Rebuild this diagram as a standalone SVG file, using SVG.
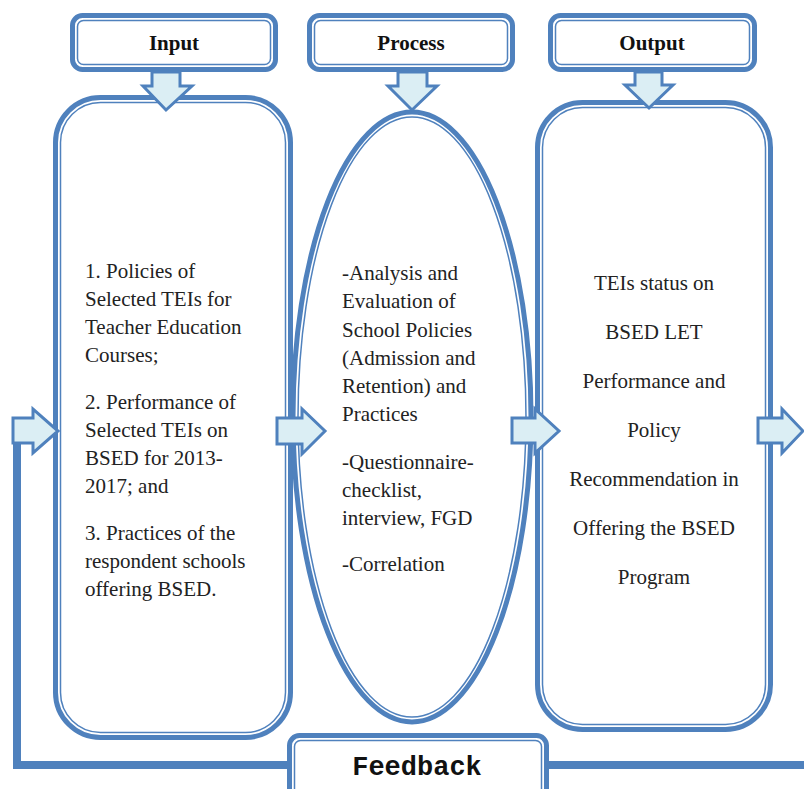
<svg xmlns="http://www.w3.org/2000/svg" width="804" height="789" viewBox="0 0 804 789">
<style>
.o{fill:#fff;stroke:#4F81BD;stroke-width:5}
.i{fill:none;stroke:#4F81BD;stroke-width:1.5}
.ar{fill:#DBEEF4;stroke:#4F81BD;stroke-width:3;stroke-linejoin:miter}
.ln{fill:none;stroke:#4F81BD;stroke-width:8}
.h{font-size:21px;font-weight:bold;fill:#111;text-anchor:middle}
.t{font-size:21px;fill:#222}
.c{text-anchor:middle}
.fb{font-size:27px;font-weight:bold;fill:#111;text-anchor:middle}
</style>
<rect width="804" height="789" fill="#fff"/>
<g id="input-header" font-family="'Liberation Serif', 'Times New Roman', serif">
<rect class="o" x="72.5" y="15.5" width="203" height="54" rx="10"/>
<rect class="i" x="77.5" y="20.5" width="193" height="44" rx="6"/>
<text class="h" x="174" y="50">Input</text>
</g>
<g id="process-header" font-family="'Liberation Serif', 'Times New Roman', serif">
<rect class="o" x="309.5" y="15.5" width="203" height="54" rx="10"/>
<rect class="i" x="314.5" y="20.5" width="193" height="44" rx="6"/>
<text class="h" x="411" y="50">Process</text>
</g>
<g id="output-header" font-family="'Liberation Serif', 'Times New Roman', serif">
<rect class="o" x="550.5" y="15.5" width="204" height="54" rx="10"/>
<rect class="i" x="555.5" y="20.5" width="194" height="44" rx="6"/>
<text class="h" x="652" y="50">Output</text>
</g>
<g id="input" font-family="'Liberation Serif', 'Times New Roman', serif">
<rect class="o" x="55.5" y="97.5" width="235" height="640" rx="45"/>
<rect class="i" x="60.5" y="102.5" width="225" height="630" rx="40"/>
<text class="t" x="85" y="278">1. Policies of</text>
<text class="t" x="85" y="306">Selected TEIs for</text>
<text class="t" x="85" y="334">Teacher Education</text>
<text class="t" x="85" y="362">Courses;</text>
<text class="t" x="85" y="409">2. Performance of</text>
<text class="t" x="85" y="437">Selected TEIs on</text>
<text class="t" x="85" y="465">BSED for 2013-</text>
<text class="t" x="85" y="493">2017; and</text>
<text class="t" x="85" y="540">3. Practices of the</text>
<text class="t" x="85" y="568">respondent schools</text>
<text class="t" x="85" y="596">offering BSED.</text>
</g>
<g id="process" font-family="'Liberation Serif', 'Times New Roman', serif">
<ellipse class="o" cx="412" cy="417" rx="119" ry="305"/>
<ellipse class="i" cx="412" cy="417" rx="114" ry="300"/>
<text class="t" x="342" y="280">-Analysis and</text>
<text class="t" x="342" y="308">Evaluation of</text>
<text class="t" x="342" y="337">School Policies</text>
<text class="t" x="342" y="365">(Admission and</text>
<text class="t" x="342" y="393">Retention) and</text>
<text class="t" x="342" y="421">Practices</text>
<text class="t" x="342" y="469">-Questionnaire-</text>
<text class="t" x="342" y="497">checklist,</text>
<text class="t" x="342" y="525">interview, FGD</text>
<text class="t" x="342" y="571">-Correlation</text>
</g>
<g id="output" font-family="'Liberation Serif', 'Times New Roman', serif">
<rect class="o" x="537.5" y="102.5" width="233" height="627" rx="45"/>
<rect class="i" x="542.5" y="107.5" width="223" height="617" rx="40"/>
<text class="t c" x="654" y="290">TEIs status on</text>
<text class="t c" x="654" y="339">BSED LET</text>
<text class="t c" x="654" y="388">Performance and</text>
<text class="t c" x="654" y="437">Policy</text>
<text class="t c" x="654" y="486">Recommendation in</text>
<text class="t c" x="654" y="535">Offering the BSED</text>
<text class="t c" x="654" y="584">Program</text>
</g>
<g id="connectors">
<path class="ln" d="M17 443 V765 H292 M546 765 H804"/>
<path class="ar" d="M152 72 H180 V86 H192 L166 110 L143 86 H152 Z"/>
<path class="ar" d="M398 72 H427 V86 H437 L412 110 L388 86 H398 Z"/>
<path class="ar" d="M635 72 H662 V85 H673 L649 108 L625 85 H635 Z"/>
<path class="ar" d="M13 418 H33 V409 L58 431 L33 453 V443 H13 Z"/>
<path class="ar" d="M277 418 H302 V409 L325 431 L302 454 V444 H277 Z"/>
<path class="ar" d="M512 418 H535 V409 L559 431 L535 453 V443 H512 Z"/>
<path class="ar" d="M758 418 H782 V409 L803 431 L782 453 V443 H758 Z"/>
</g>
<g id="feedback" font-family="'Liberation Mono', 'Courier New', monospace">
<rect class="o" x="289.5" y="735.5" width="257" height="70" rx="10"/>
<rect class="i" x="294.5" y="740.5" width="247" height="60" rx="6"/>
<text class="fb" x="417" y="775">Feedback</text>
</g>
</svg>
